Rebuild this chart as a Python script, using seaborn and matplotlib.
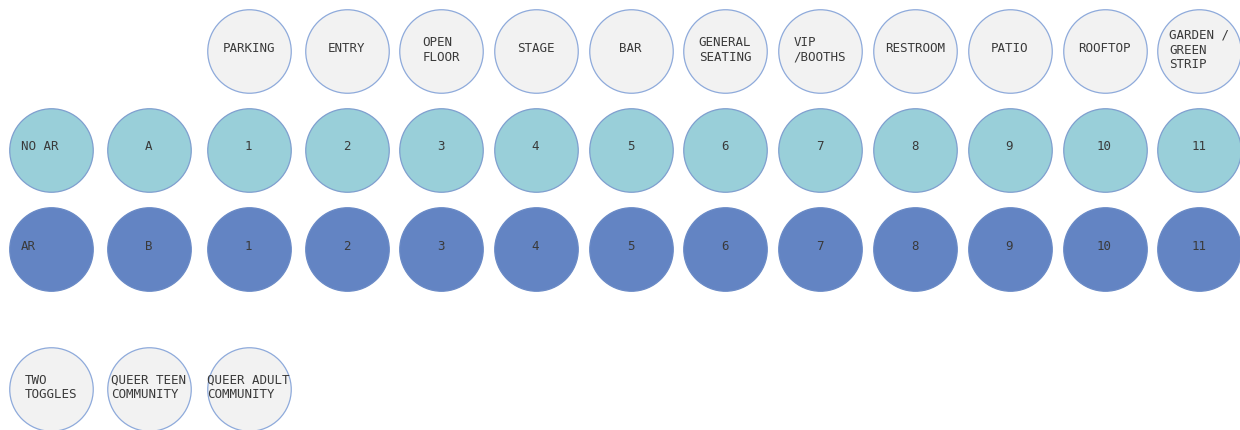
import matplotlib
matplotlib.use("Agg")
import matplotlib.pyplot as plt
import seaborn as sns
import pandas as pd

# ---- data ----
zone_labels = ["PARKING", "ENTRY", "OPEN\nFLOOR", "STAGE", "BAR", "GENERAL\nSEATING",
               "VIP\n/BOOTHS", "RESTROOM", "PATIO", "ROOFTOP", "GARDEN /\nGREEN\nSTRIP"]
zone_cols = list(range(2, 13))

noar_labels = ["NO AR", "A", "1", "2", "3", "4", "5", "6", "7", "8", "9", "10", "11"]
ar_labels = ["AR", "B", "1", "2", "3", "4", "5", "6", "7", "8", "9", "10", "11"]
grid_cols = list(range(0, 13))

toggle_labels = ["TWO\nTOGGLES", "QUEER TEEN\nCOMMUNITY", "QUEER ADULT\nCOMMUNITY"]
toggle_cols = [0, 1, 2]

# ---- layout (pixel centres) ----
col_x = [51, 148.5, 248.5, 346.5, 441, 535.5, 630.5, 725, 820, 915, 1009.5, 1104.5, 1199]
row_y = [51, 150, 249, 388.5]

rows = []
for c, lab in zip(zone_cols, zone_labels):
    rows.append(dict(x=col_x[c], y=row_y[0], label=lab, kind="zone"))
for c, lab in zip(grid_cols, noar_labels):
    rows.append(dict(x=col_x[c], y=row_y[1], label=lab, kind="noar"))
for c, lab in zip(grid_cols, ar_labels):
    rows.append(dict(x=col_x[c], y=row_y[2], label=lab, kind="ar"))
for c, lab in zip(toggle_cols, toggle_labels):
    rows.append(dict(x=col_x[c], y=row_y[3], label=lab, kind="toggle"))
df = pd.DataFrame(rows)

fills = {"zone": "#f2f2f2", "noar": "#99cfd9", "ar": "#6384c3", "toggle": "#f2f2f2"}
edges = {"zone": "#8eaadb", "noar": "#7f9fcf", "ar": "#6a8ac6", "toggle": "#8eaadb"}

sns.set_theme(style="white")
fig = plt.figure(figsize=(12.4, 4.3), dpi=100)
ax = fig.add_axes([0, 0, 1, 1])

diam_pt = 83.5 * 72 / 100
for kind in ["zone", "noar", "ar", "toggle"]:
    sub = df[df.kind == kind]
    sns.scatterplot(data=sub, x="x", y="y", ax=ax, s=diam_pt ** 2, marker="o",
                    color=fills[kind], edgecolor=edges[kind], linewidth=0.9,
                    legend=False, zorder=2)

for _, r in df.iterrows():
    lab = r["label"]
    dy = -3 if "\n" not in lab else -1
    if lab in ("NO AR", "AR"):
        ax.text(r["x"] - 30, r["y"] + dy, lab, ha="left", va="center",
                fontsize=9, family="DejaVu Sans Mono", color="#3a3a3a", zorder=3)
    else:
        ax.text(r["x"], r["y"] + dy, lab, ha="center", va="center", multialignment="left",
                fontsize=9, family="DejaVu Sans Mono", color="#3a3a3a", zorder=3,
                linespacing=1.15)

ax.set_xlim(0, 1240)
ax.set_ylim(430, 0)
ax.set_axis_off()
fig.savefig("out.png", dpi=100, facecolor="white")
